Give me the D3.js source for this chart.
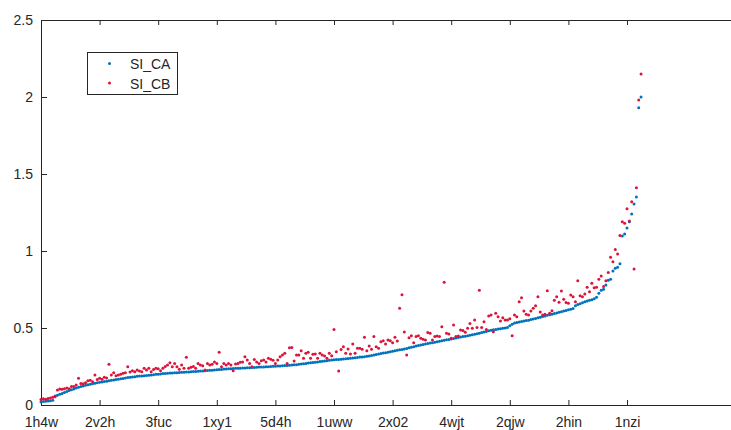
<!DOCTYPE html>
<html>
<head>
<meta charset="utf-8">
<script src="https://cdn.jsdelivr.net/npm/d3@7"></script>
<style>
  body { margin: 0; background: #fff; }
  svg { display: block; font-family: "Liberation Sans", Arial, sans-serif; }
</style>
</head>
<body>
<svg id="chart"></svg>
<script>
// values, one per structure, sorted by SI_CA
const siCA = [
  0.020,0.022,0.024,0.026,0.028,0.031,0.058,0.064,0.070,0.075,
  0.081,0.088,0.094,0.099,0.104,0.110,0.116,0.120,0.124,0.128,
  0.131,0.134,0.138,0.141,0.144,0.147,0.150,0.152,0.155,0.157,
  0.160,0.162,0.165,0.167,0.170,0.172,0.175,0.178,0.180,0.182,
  0.184,0.186,0.188,0.189,0.190,0.191,0.193,0.195,0.197,0.199,
  0.200,0.202,0.204,0.205,0.206,0.207,0.208,0.209,0.210,0.211,
  0.212,0.213,0.214,0.215,0.216,0.217,0.218,0.219,0.220,0.221,
  0.222,0.224,0.225,0.226,0.228,0.229,0.230,0.231,0.233,0.234,
  0.235,0.236,0.237,0.238,0.239,0.239,0.240,0.241,0.242,0.242,
  0.243,0.244,0.245,0.246,0.246,0.247,0.248,0.249,0.250,0.251,
  0.252,0.253,0.254,0.255,0.256,0.257,0.258,0.260,0.261,0.262,
  0.264,0.266,0.268,0.270,0.272,0.274,0.276,0.278,0.280,0.282,
  0.284,0.286,0.288,0.290,0.292,0.294,0.295,0.296,0.297,0.299,
  0.300,0.302,0.304,0.305,0.307,0.309,0.311,0.312,0.314,0.316,
  0.318,0.321,0.324,0.328,0.331,0.334,0.337,0.340,0.343,0.346,
  0.349,0.352,0.355,0.358,0.361,0.364,0.367,0.371,0.375,0.379,
  0.383,0.387,0.390,0.393,0.396,0.399,0.402,0.405,0.408,0.411,
  0.414,0.417,0.420,0.423,0.426,0.429,0.432,0.435,0.438,0.441,
  0.444,0.447,0.450,0.453,0.456,0.459,0.462,0.466,0.470,0.474,
  0.478,0.482,0.485,0.488,0.490,0.493,0.495,0.498,0.500,0.503,
  0.515,0.525,0.532,0.536,0.539,0.542,0.545,0.548,0.551,0.555,
  0.558,0.562,0.566,0.570,0.574,0.578,0.582,0.586,0.590,0.594,
  0.598,0.602,0.606,0.610,0.614,0.618,0.622,0.626,0.645,0.652,
  0.658,0.664,0.670,0.675,0.680,0.684,0.690,0.700,0.725,0.745,
  0.752,0.780,0.810,0.816,0.870,0.888,0.894,0.917,1.097,1.110,
  1.150,1.190,1.240,1.305,1.350,1.930,2.000
];

const siCB = [
  0.035,0.040,0.038,0.042,0.045,0.050,0.054,0.097,0.104,0.102,
  0.106,0.110,0.105,0.120,0.120,0.130,0.173,0.140,0.138,0.145,
  0.158,0.160,0.151,0.195,0.165,0.173,0.168,0.180,0.176,0.264,
  0.195,0.210,0.190,0.195,0.200,0.206,0.210,0.249,0.215,0.223,
  0.216,0.227,0.220,0.216,0.238,0.227,0.238,0.216,0.230,0.238,
  0.235,0.223,0.238,0.250,0.260,0.275,0.249,0.270,0.249,0.232,
  0.260,0.238,0.310,0.238,0.245,0.250,0.238,0.270,0.260,0.255,
  0.227,0.270,0.260,0.265,0.280,0.270,0.342,0.249,0.270,0.260,
  0.270,0.260,0.223,0.266,0.270,0.277,0.280,0.314,0.292,0.270,
  0.249,0.296,0.280,0.270,0.288,0.292,0.280,0.303,0.297,0.290,
  0.270,0.292,0.314,0.325,0.336,0.270,0.372,0.374,0.286,0.325,
  0.325,0.353,0.303,0.336,0.342,0.303,0.329,0.331,0.303,0.336,
  0.325,0.318,0.303,0.336,0.320,0.490,0.346,0.220,0.361,0.378,
  0.336,0.364,0.331,0.396,0.336,0.368,0.368,0.362,0.440,0.353,
  0.383,0.362,0.444,0.379,0.368,0.411,0.418,0.396,0.422,0.418,
  0.405,0.440,0.416,0.628,0.716,0.474,0.325,0.437,0.450,0.405,
  0.444,0.450,0.433,0.427,0.422,0.470,0.466,0.422,0.444,0.448,
  0.444,0.508,0.797,0.466,0.461,0.433,0.520,0.444,0.448,0.487,
  0.483,0.472,0.498,0.530,0.498,0.552,0.504,0.745,0.504,0.541,
  0.491,0.578,0.584,0.475,0.595,0.573,0.545,0.567,0.552,0.552,
  0.560,0.450,0.584,0.573,0.670,0.697,0.610,0.590,0.584,0.610,
  0.628,0.645,0.703,0.604,0.584,0.590,0.742,0.595,0.612,0.680,
  0.703,0.667,0.740,0.686,0.665,0.660,0.714,0.703,0.670,0.807,
  0.710,0.703,0.720,0.764,0.736,0.790,0.762,0.764,0.816,0.838,
  0.770,0.807,0.860,0.960,0.930,1.010,0.980,1.100,1.190,1.180,
  1.275,1.195,1.320,0.883,1.410,1.980,2.150
];

const xTickLabels = ["1h4w", "2v2h", "3fuc", "1xy1", "5d4h", "1uww", "2x02", "4wjt", "2qjw", "2hin", "1nzi"];
const xTickStep = 25;
const yTicks = [0, 0.5, 1, 1.5, 2, 2.5];
const seriesNames = ["SI_CA", "SI_CB"];
const seriesColors = ["#0072bd", "#dc143c"];

const width = 731, height = 430;
const plotLeft = 41, plotTop = 20, plotBottom = 405;
const xMax = 300;
const pxPerPoint = 58.6 / xTickStep;

const svg = d3.select("#chart")
  .attr("width", width)
  .attr("height", height);

svg.append("rect")
  .attr("width", width)
  .attr("height", height)
  .attr("fill", "#fff");

const x = d3.scaleLinear()
  .domain([0, xMax])
  .range([plotLeft, plotLeft + xMax * pxPerPoint]);

const y = d3.scaleLinear()
  .domain([0, 2.5])
  .range([plotBottom, plotTop]);

const tickIdx = xTickLabels.map((_, k) => k * xTickStep);

function styleAxis(g) {
  g.attr("font-family", null)
    .attr("font-size", 14)
    .attr("color", "#262626");
  g.select(".domain").attr("stroke", "#262626");
  g.selectAll(".tick line").attr("stroke", "#262626");
}

svg.append("g")
  .attr("transform", `translate(0,${plotBottom})`)
  .call(d3.axisBottom(x)
    .tickValues(tickIdx)
    .tickFormat((d, k) => xTickLabels[k])
    .tickSizeInner(-5)
    .tickSizeOuter(0)
    .tickPadding(12))
  .call(styleAxis);

svg.append("g")
  .attr("transform", `translate(0,${plotTop})`)
  .call(d3.axisTop(x)
    .tickValues(tickIdx)
    .tickFormat("")
    .tickSizeInner(-5)
    .tickSizeOuter(0))
  .call(styleAxis);

svg.append("g")
  .attr("transform", `translate(${plotLeft},0)`)
  .call(d3.axisLeft(y)
    .tickValues(yTicks)
    .tickFormat(d3.format("~g"))
    .tickSizeInner(-6)
    .tickSizeOuter(0)
    .tickPadding(8))
  .call(styleAxis);

const series = [siCA, siCB];

series.forEach((vals, s) => {
  svg.append("g")
    .attr("fill", seriesColors[s])
    .selectAll("circle")
    .data(vals)
    .enter().append("circle")
    .attr("cx", (d, i) => x(i))
    .attr("cy", d => y(d))
    .attr("r", 1.5);
});

// legend
const legend = svg.append("g").attr("transform", "translate(87.5,52.5)");
legend.append("rect")
  .attr("width", 90)
  .attr("height", 42)
  .attr("fill", "#fff")
  .attr("stroke", "#262626")
  .attr("stroke-width", 1);

seriesNames.forEach((name, s) => {
  const row = legend.append("g").attr("transform", `translate(0,${11 + s * 19.5})`);
  row.append("circle")
    .attr("cx", 22)
    .attr("cy", 0)
    .attr("r", 1.5)
    .attr("fill", seriesColors[s]);
  row.append("text")
    .attr("x", 42.5)
    .attr("y", 5.5)
    .attr("font-size", 14)
    .attr("fill", "#262626")
    .text(name);
});
</script>
</body>
</html>
